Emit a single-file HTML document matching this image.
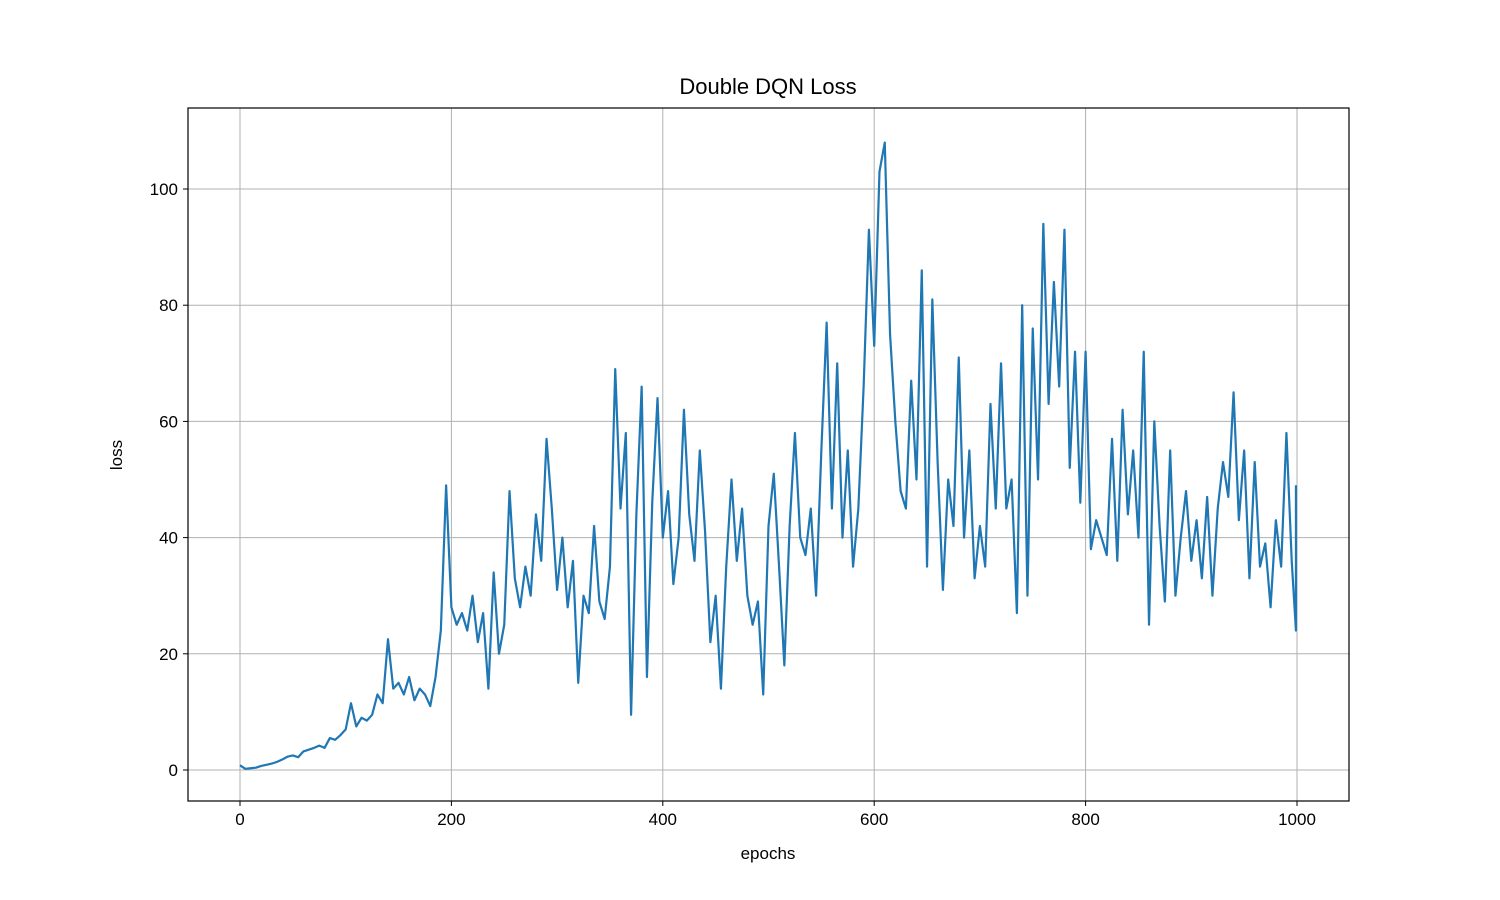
<!DOCTYPE html>
<html><head><meta charset="utf-8"><style>
body{margin:0;background:#fff;}
svg{display:block;font-family:"Liberation Sans","DejaVu Sans",sans-serif;}
</style></head><body>
<svg id="chart" width="1500" height="900"></svg>
<script>
const xTicks=[0,200,400,600,800,1000];
const yTicks=[0,20,40,60,80,100];
const step=5;
const losses=[0.8,0.2,0.3,0.4,0.7,0.9,1.1,1.4,1.8,2.3,
2.5,2.2,3.2,3.5,3.8,4.2,3.8,5.5,5.2,6,
7,11.5,7.5,9,8.5,9.5,13,11.5,22.5,14,
15,13,16,12,14,13,11,16,24,49,
28,25,27,24,30,22,27,14,34,20,
25,48,33,28,35,30,44,36,57,45,
31,40,28,36,15,30,27,42,29,26,
35,69,45,58,9.5,44,66,16,46,64,
40,48,32,40,62,44,36,55,41,22,
30,14,35,50,36,45,30,25,29,13,
42,51,35,18,42,58,40,37,45,30,
55,77,45,70,40,55,35,45,66,93,
73,103,108,75,60,48,45,67,50,86,
35,81,53,31,50,42,71,40,55,33,
42,35,63,45,70,45,50,27,80,30,
76,50,94,63,84,66,93,52,72,46,
72,38,43,40,37,57,36,62,44,55,
40,72,25,60,42,29,55,30,40,48,
36,43,33,47,30,45,53,47,65,43,
55,33,53,35,39,28,43,35,58,36,24,49];
const X0=188,X1=1349,Y0=108,Y1=801;
function xs(v){return 240+(v-0)*(1297-240)/1000;}
function ys(v){return 770-(v)*(770-189)/100;}
const NS="http://www.w3.org/2000/svg";
const svg=document.getElementById('chart');
function mk(t,a,p){const e=document.createElementNS(NS,t);for(const k in a)e.setAttribute(k,a[k]);(p||svg).appendChild(e);return e;}
xTicks.forEach(t=>{
 const g=mk('line',{x1:xs(t),x2:xs(t),y1:Y0,y2:Y1,stroke:'#b0b0b0','stroke-width':1});
 
 
 mk('line',{x1:xs(t),x2:xs(t),y1:Y1,y2:Y1+5,stroke:'#000','stroke-width':1});
 const l=mk('text',{x:xs(t),y:Y1+24,'text-anchor':'middle','font-size':'17',fill:'#000'});
 l.textContent=t;
 
 
});
yTicks.forEach(t=>{
 const g=mk('line',{x1:X0,x2:X1,y1:ys(t),y2:ys(t),stroke:'#b0b0b0','stroke-width':1});
 
 
 mk('line',{x1:X0-5,x2:X0,y1:ys(t),y2:ys(t),stroke:'#000','stroke-width':1});
 const l=mk('text',{x:X0-10,y:ys(t)+6,'text-anchor':'end','font-size':'17',fill:'#000'});
 l.textContent=t;
 
 
});
const pts=losses.map((v,i)=>xs(Math.min(i*step,999))+','+ys(v)).join(' ');
const pl=mk('polyline',{points:pts,fill:'none',stroke:'#1f77b4','stroke-width':2.2,'stroke-linejoin':'round'});


const fr=mk('rect',{x:X0,y:Y0,width:X1-X0,height:Y1-Y0,fill:'none',stroke:'#000','stroke-width':1.2});


const ti=mk('text',{x:768,y:94,'text-anchor':'middle','font-size':'22',fill:'#000'});
ti.textContent='Double DQN Loss';


const xl=mk('text',{x:768,y:859,'text-anchor':'middle','font-size':'17',fill:'#000'});
xl.textContent='epochs';


const yl=mk('text',{x:122,y:455,'text-anchor':'middle','font-size':'17',fill:'#000',transform:'rotate(-90 122 455)'});
yl.textContent='loss';


</script>
</body></html>
